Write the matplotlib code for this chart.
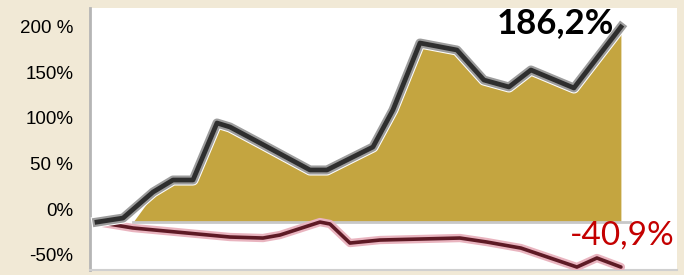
import matplotlib.pyplot as plt

# time axis (arbitrary units along the chart) and values in %
fund_x = [7, 33, 63, 83, 103, 127, 140, 170, 220, 237, 283, 303, 330, 367, 394, 419, 441, 484, 531]
fund_y = [-14.3, -9.9, 18.6, 31.8, 31.8, 94.3, 89.9, 72.4, 42.8, 42.8, 68.0, 108.6, 182.0, 174.3,
          141.4, 133.8, 152.4, 132.7, 199.6]

# the golden area starts a little after the line
fill_x = [43] + fund_x[2:]
fill_y = [-14.3] + [v - 3 for v in fund_y[2:]]
base = -14.3

index_x = [7, 43, 140, 173, 190, 230, 240, 260, 290, 370, 397, 431, 487, 507, 531]
index_y = [-14.3, -20.8, -30.7, -31.8, -28.5, -14.3, -16.4, -37.3, -34.0, -31.8, -36.2, -42.8,
           -63.6, -53.7, -63.6]

ticks = [200, 150, 100, 50, 0, -50]
tick_labels = ["200 %", "150%", "100%", "50 %", "0%", "-50%"]

fig = plt.figure(figsize=(6.84, 2.75), dpi=100)
fig.patch.set_facecolor('#f1e9d6')
ax = fig.add_axes([0.1316, 0.018, 0.858, 0.953])
ax.set_facecolor('white')

ax.fill_between(fill_x, fill_y, base, color='#c4a540', lw=0, zorder=1)
ax.plot([43, 540], [base, base], color='#c8c8c8', lw=2, zorder=2)

# red index line with pink glow
ax.plot(index_x, index_y, color='#e9b4bf', lw=6, solid_capstyle='round', zorder=3)
ax.plot(index_x, index_y, color='#5e1a25', lw=2.6, solid_capstyle='round', zorder=4)

# black fund line with gray glow
ax.plot(fund_x, fund_y, color='white', lw=8, solid_joinstyle='round', zorder=5)
ax.plot(fund_x, fund_y, color='#9c9c9c', lw=6.5, solid_joinstyle='round', zorder=6)
ax.plot(fund_x, fund_y, color='#2e2e2e', lw=3.4, solid_joinstyle='round', zorder=7)

ax.text(465, 204, "186,2%", family='Lato', weight='bold', fontsize=25,
        ha='center', va='center', color='black', zorder=8)
ax.text(532, -29, "-40,9%", family='Lato', fontsize=24,
        ha='center', va='center', color='#c40000', zorder=8)

ax.set_xlim(0, 587)
ax.set_ylim(-66.9, 220.4)
ax.set_xticks([])
ax.set_yticks(ticks)
ax.set_yticklabels(tick_labels, family='Liberation Sans', fontsize=13.5)
ax.tick_params(axis='y', length=0, pad=12)

for s in ['top', 'right']:
    ax.spines[s].set_visible(False)
ax.spines['left'].set_color('#b5b5b5')
ax.spines['left'].set_linewidth(2)
ax.spines['bottom'].set_color('#d0d0d0')
ax.spines['bottom'].set_linewidth(1.5)

fig.savefig('out.png', dpi=100, facecolor=fig.get_facecolor())
